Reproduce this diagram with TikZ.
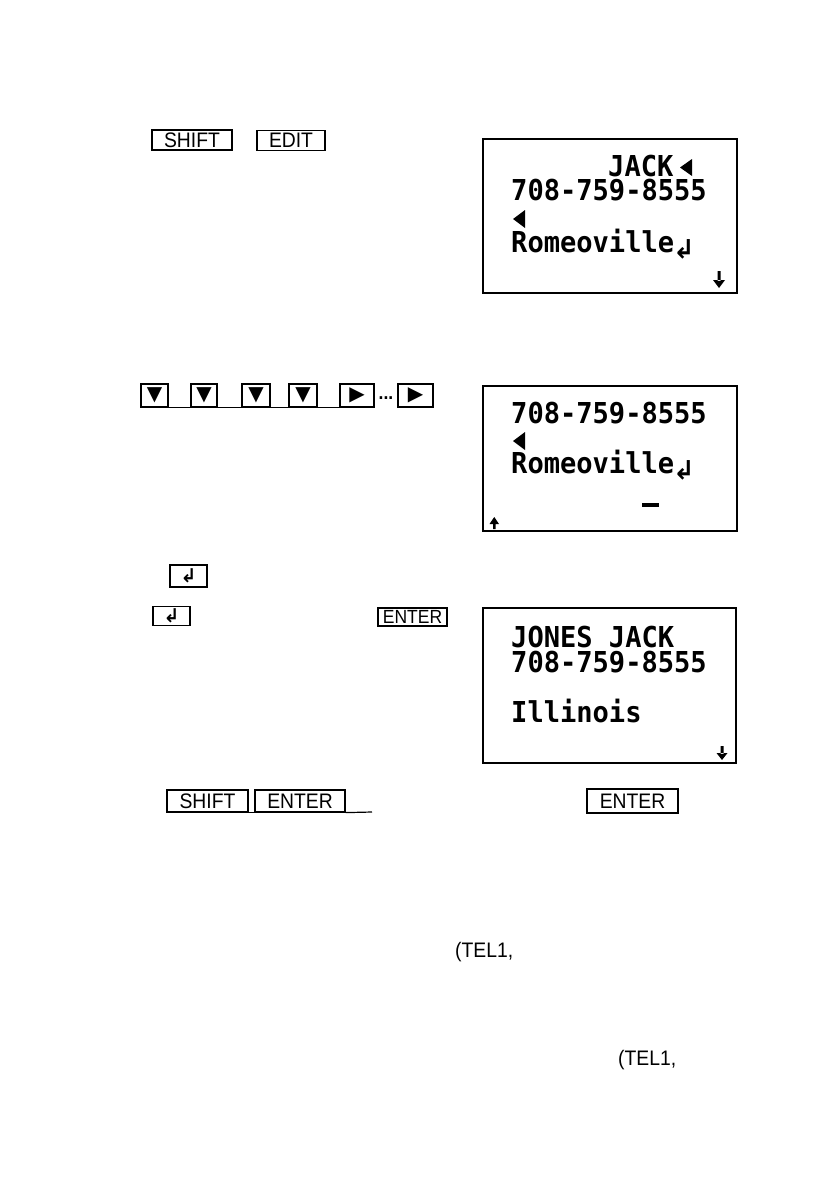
\documentclass[tikz,border=0pt]{standalone}
\usepackage{fontspec}
\usepackage{tikz}
\newfontfamily\keyfont[FakeStretch=0.92]{Liberation Sans}
\newfontfamily\lcdfont[FakeStretch=0.94]{DejaVu Sans Mono}
\newfontfamily\symfont{DejaVu Sans}

\begin{document}
\begin{tikzpicture}[x=1pt,y=-1pt,
  key/.style={draw,line width=1.2pt,inner sep=0pt,minimum height=20pt,font=\keyfont\fontsize{21}{21}\selectfont},
  keysym/.style={inner sep=0pt,font=\symfont\fontsize{20}{20}\selectfont},
  lcd/.style={anchor=base west,inner sep=0pt,text depth=0pt,font=\lcdfont\bfseries\fontsize{28.8}{29}\selectfont},
  lcdret/.style={inner sep=0pt,font=\symfont\bfseries\fontsize{26}{26}\selectfont},
  screen/.style={draw,line width=1.3pt,inner sep=0pt}]
\useasboundingbox (0,0) rectangle (839,1183);

% first step
\node[key,minimum width=80pt] (shift1) at (192,140) {SHIFT};
\node[key,minimum width=68pt] (edit1) at (291,140.5) {EDIT};

\node[screen,minimum width=254pt,minimum height=154pt] (scr1) at (610,216) {};
\node[lcd] (jack1) at (608,176) {JACK};
\fill (680,167.5) -- (692,159) -- (692,176) -- cycle;
\node[lcd] (tel1) at (511,200) {708-759-8555};
\fill (513,219) -- (525,210) -- (525,228) -- cycle;
\node[lcd] (city1) at (511,252) {Romeoville};
\node[lcdret] (ret1) at (684,249) {↲};
\fill (717.5,271) rectangle (720.5,281) (713,280) -- (725,280) -- (719,288) -- cycle;

% second step
\node[key,minimum width=27pt,minimum height=23pt] (d1) at (154.5,395.5) {};
\node[key,minimum width=26pt,minimum height=23pt] (d2) at (204,395.5) {};
\node[key,minimum width=28pt,minimum height=23pt] (d3) at (256,395.5) {};
\node[key,minimum width=28pt,minimum height=23pt] (d4) at (303,395.5) {};
\node[key,minimum width=34pt,minimum height=23pt] (r1) at (357,395.5) {};
\node[inner sep=0pt,font=\keyfont\bfseries\fontsize{19}{19}\selectfont] (dots) at (386,398) {...};
\node[key,minimum width=35pt,minimum height=23pt] (r2) at (415.5,395.5) {};
\node[keysym] at (d1) {▼};
\node[keysym] at (d2) {▼};
\node[keysym] at (d3) {▼};
\node[keysym] at (d4) {▼};
\node[keysym] at (r1) {▶};
\node[keysym] at (r2) {▶};
\draw[line width=1.2pt] (d1.south east) -- (d2.south west);
\draw[line width=1.2pt] (d2.south east) -- (d3.south west);
\draw[line width=1.2pt] (d3.south east) -- (d4.south west);
\draw[line width=1.2pt] (d4.south east) -- (r1.south west);

\node[screen,minimum width=254pt,minimum height=145pt] (scr2) at (610,458.5) {};
\node[lcd] (tel2) at (511,423) {708-759-8555};
\fill (513,441) -- (525,432) -- (525,450) -- cycle;
\node[lcd] (city2) at (511,473) {Romeoville};
\node[lcdret] (ret2) at (684,470) {↲};
\fill (642,503) rectangle (659,507);
\fill (493,522) rectangle (495.5,529) (489.5,524) -- (499,524) -- (494.25,517) -- cycle;

% third step
\node[key,minimum width=37pt,minimum height=22pt,font=\symfont\bfseries\fontsize{19}{19}\selectfont] (cr1) at (188.5,576) {↲};
\node[key,minimum width=37pt,minimum height=19pt,font=\symfont\bfseries\fontsize{19}{19}\selectfont] (cr2) at (171.5,616) {↲};
\node[key,minimum width=69pt,minimum height=18pt,font=\keyfont\fontsize{19}{19}\selectfont] (enter1) at (412.5,617) {ENTER};

\node[screen,minimum width=253pt,minimum height=155pt] (scr3) at (609.5,685.5) {};
\node[lcd] (name3) at (511,647) {JONES JACK};
\node[lcd] (tel3) at (511,672) {708-759-8555};
\node[lcd] (state3) at (511,722) {Illinois};
\fill (720.5,746) rectangle (723.5,754) (716.5,753) -- (727.5,753) -- (722,760) -- cycle;

% last step
\node[key,minimum width=81pt,minimum height=22pt] (shift2) at (207.5,801) {SHIFT};
\node[key,minimum width=90pt,minimum height=22pt] (enter2) at (300,801) {ENTER};
\coordinate (tail) at (372,812);
\draw[line width=1.2pt] (shift2.south east) -- (enter2.south west);
\draw[line width=1.2pt] (enter2.south east) -- (tail);
\node[key,minimum width=91pt,minimum height=24pt] (enter3) at (632.5,801) {ENTER};

\node[anchor=base west,inner sep=0pt,font=\keyfont\fontsize{21}{21}\selectfont] (note1) at (455,957) {(TEL1,};
\node[anchor=base west,inner sep=0pt,font=\keyfont\fontsize{21}{21}\selectfont] (note2) at (618,1065) {(TEL1,};
\end{tikzpicture}
\end{document}
